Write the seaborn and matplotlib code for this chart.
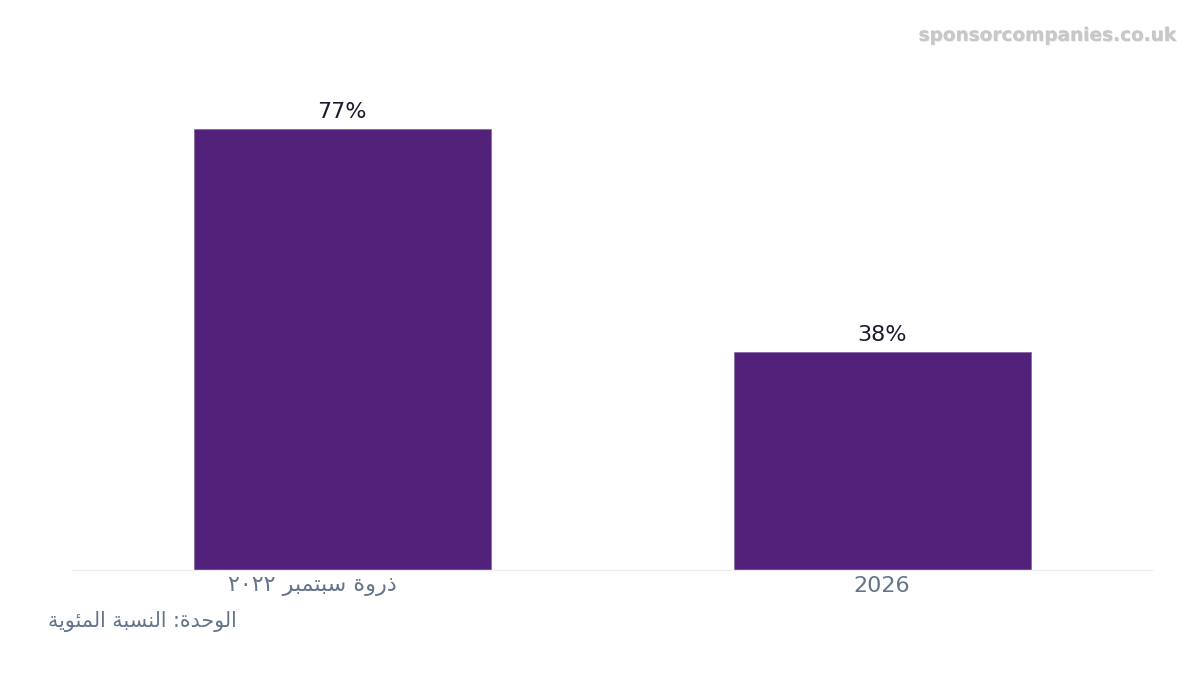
import pandas as pd
import seaborn as sns
import matplotlib.pyplot as plt
import matplotlib.patheffects as pe
from matplotlib.transforms import ScaledTranslation

# Arabic text is written in presentation forms, visual (left-to-right) order,
# because matplotlib does no Arabic shaping or bidi on its own
label_peak = "\u0662\u0660\u0662\u0662 \uFEAE\uFE92\uFEE4\uFE98\uFE92\uFEB3 \uFE93\uFEED\uFEAD\uFEAB"  # ذروة سبتمبر ٢٠٢٢
unit_text = ("\uFE94\uFEF3\uFEEE\uFE8C\uFEE4\uFEDF\uFE8D \uFE94\uFE92\uFEB4\uFEE8\uFEDF\uFE8D "
             ":\uFE93\uFEAA\uFEA3\uFEEE\uFEDF\uFE8D")  # الوحدة: النسبة المئوية

categories = [label_peak, "2026"]
values = [77, 38]

df = pd.DataFrame({"period": categories, "pct": values})

sns.set_style("white")
plt.rcParams['font.family'] = ['DejaVu Sans']

fig = plt.figure(figsize=(12, 6.75), dpi=100)
ax = fig.add_axes([0.06, 0.1556, 0.9, 0.7212])

sns.barplot(data=df, x="period", y="pct", color="#52217a", width=0.55,
            saturation=1, edgecolor="#8a6aa6", linewidth=0.6, ax=ax)

for i, v in enumerate(values):
    ax.text(i, v + 1.2, f"{v}%", ha="center", va="bottom", fontsize=16, color="#1a1a2e")

ax.set_xlim(-0.5, 1.5)
ax.set_ylim(0, 85)
ax.set_xlabel("")
ax.set_ylabel("")
ax.set_yticks([])
ax.tick_params(axis="x", length=0, pad=4, labelsize=16, labelcolor="#64748b")
# the arabic label sits a bit left of its bar in the original
lbl = ax.get_xticklabels()[0]
lbl.set_transform(lbl.get_transform() + ScaledTranslation(-0.30, 0, fig.dpi_scale_trans))
for side in ["top", "right", "left"]:
    ax.spines[side].set_visible(False)
ax.spines["bottom"].set_color("#eeeeee")
ax.spines["bottom"].set_linewidth(1)

fig.text(0.04, 0.08, unit_text, ha="left", va="center", fontsize=14.8, color="#64748b")
fig.text(0.98, 0.947, "sponsorcompanies.co.uk", ha="right", va="center",
         fontsize=13.3, fontweight="bold", color="#c8c8c8",
         path_effects=[pe.withSimplePatchShadow(offset=(0.7, -0.7), shadow_rgbFace="#999999", alpha=0.2),
                       pe.Normal()])

fig.savefig("out.png", dpi=100)
